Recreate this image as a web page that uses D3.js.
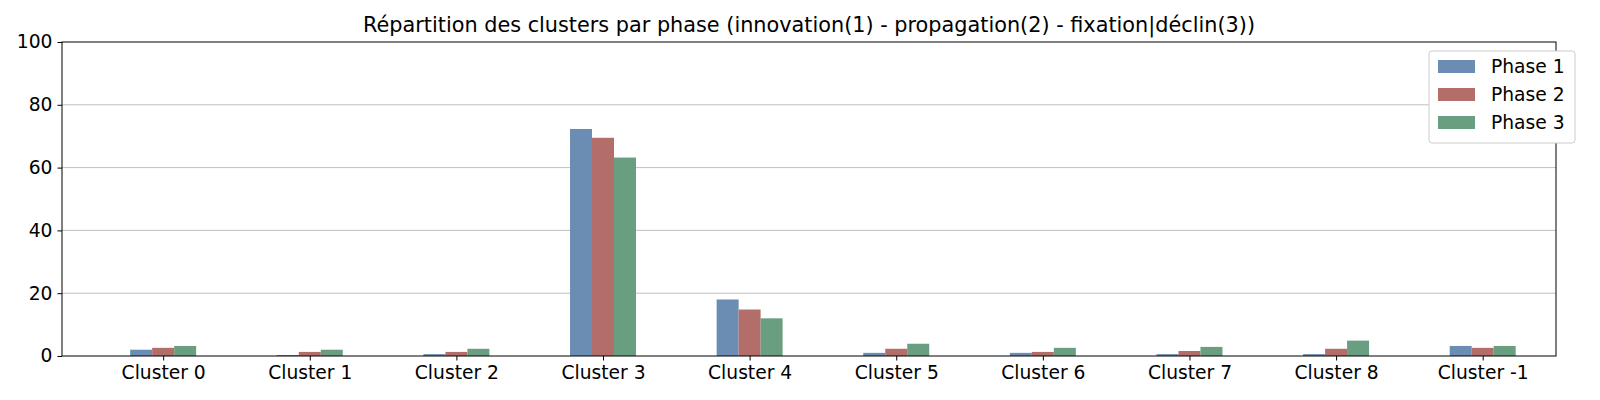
<!DOCTYPE html><html><head><meta charset="utf-8"><script src="https://cdn.jsdelivr.net/npm/d3@7"></script>
<style>body{margin:0;background:#fff}text{font-family:"DejaVu Sans",sans-serif}</style></head><body><svg id="c" width="1600" height="400"></svg>
<script>
const categories=["Cluster 0","Cluster 1","Cluster 2","Cluster 3","Cluster 4","Cluster 5","Cluster 6","Cluster 7","Cluster 8","Cluster -1"];
const phase1=[2.0,0.3,0.6,72.3,18.0,1.0,1.0,0.6,0.6,3.2];
const phase2=[2.6,1.3,1.3,69.5,14.8,2.3,1.3,1.6,2.3,2.6];
const phase3=[3.2,2.0,2.3,63.2,12.0,3.9,2.6,2.9,4.9,3.2];
const seriesNames=["Phase 1","Phase 2","Phase 3"];
const colors=["#6b8cb3","#b36e69","#6a9e80"];
const yTicks=[0,20,40,60,80,100];
const series=[phase1,phase2,phase3];
const svg=d3.select("#c");
const L=62,R=1556,T=42,B=356;
const x=d3.scaleLinear().domain([-0.69,9.5]).range([L,R]);
const y=d3.scaleLinear().domain([0,100]).range([B,T]);
const bw=x(0.15)-x(0);
svg.append("g").selectAll("line").data(yTicks.slice(1,-1)).join("line").attr("x1",L).attr("x2",R).attr("y1",d=>y(d)).attr("y2",d=>y(d)).attr("stroke","#b0b0b0").attr("stroke-width",0.8);
series.forEach((s,k)=>{svg.append("g").selectAll("rect").data(s).join("rect").attr("x",(d,i)=>x(i)+(k-1.5)*bw).attr("width",bw).attr("y",d=>y(d)).attr("height",d=>B-y(d)).attr("fill",colors[k]);});
const ya=svg.append("g").attr("transform",`translate(${L},0)`).call(d3.axisLeft(y).tickValues(yTicks).tickSize(4.5).tickPadding(5));
const xa=svg.append("g").attr("transform",`translate(0,${B})`).call(d3.axisBottom(x).tickValues(d3.range(10)).tickFormat(i=>categories[i]).tickSize(4.5).tickPadding(5));
[ya,xa].forEach(a=>{a.select(".domain").remove();a.selectAll("text").attr("font-size",18.7).attr("fill","#000").attr("font-family","DejaVu Sans");a.selectAll("line").attr("stroke","#000");});
svg.append("rect").attr("x",L).attr("y",T).attr("width",R-L).attr("height",B-T).attr("fill","none").attr("stroke","#000").attr("stroke-width",1);
svg.append("text").attr("x",(L+R)/2).attr("y",32).attr("text-anchor","middle").attr("font-size",20.8).text("Répartition des clusters par phase (innovation(1) - propagation(2) - fixation|déclin(3))");
const lg=svg.append("g").attr("transform","translate(1429,51)");
lg.append("rect").attr("width",146).attr("height",92).attr("rx",3).attr("fill","#fff").attr("stroke","#ccc");
seriesNames.forEach((n,k)=>{lg.append("rect").attr("x",9).attr("y",9+k*28).attr("width",37).attr("height",13).attr("fill",colors[k]);lg.append("text").attr("x",62).attr("y",22+k*28).attr("font-size",18.7).text(n);});
</script></body></html>
